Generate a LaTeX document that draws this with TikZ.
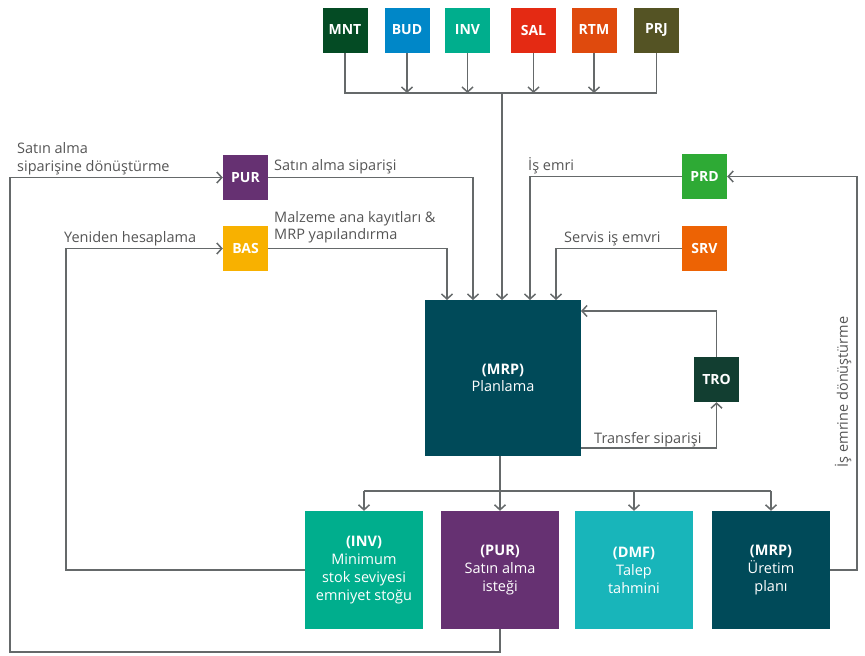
\documentclass[tikz,border=0pt]{standalone}
\usepackage{fontspec}
\setmainfont{Open Sans}
\usetikzlibrary{arrows.meta}
\definecolor{mntc}{HTML}{044B24}
\definecolor{budc}{HTML}{0087C8}
\definecolor{invc}{HTML}{00AE8D}
\definecolor{salc}{HTML}{E42A13}
\definecolor{rtmc}{HTML}{DF4A0D}
\definecolor{prjc}{HTML}{545324}
\definecolor{purc}{HTML}{663172}
\definecolor{basc}{HTML}{F8B100}
\definecolor{prdc}{HTML}{2EAA35}
\definecolor{srvc}{HTML}{ED6304}
\definecolor{troc}{HTML}{123E31}
\definecolor{mrpc}{HTML}{004A59}
\definecolor{dmfc}{HTML}{18B5BA}
\definecolor{linegray}{HTML}{65696A}
\definecolor{txtgray}{HTML}{555555}
\begin{document}
\begin{tikzpicture}[x=1pt,y=-1pt,
  sbox/.style={minimum width=45pt,minimum height=45pt,inner sep=0pt,text=white,font=\bfseries\fontsize{14}{17}\selectfont},
  bbox/.style={minimum width=118pt,minimum height=118pt,inner sep=0pt,text=white,align=center,font=\fontsize{14.5}{18}\selectfont},
  conn/.style={draw=linegray,line width=1.5pt},
  arr/.style={conn,-{Straight Barb[length=5pt,width=11pt]}},
  lbl/.style={text=txtgray,font=\fontsize{14.5}{18}\selectfont,inner sep=0pt,anchor=base west}]
\path[use as bounding box] (0,0) rectangle (865,656);
% top boxes
\node[sbox,fill=mntc] (mnt) at (345,30) {MNT};
\node[sbox,fill=budc] (bud) at (407,30) {BUD};
\node[sbox,fill=invc] (inv) at (467.5,30) {INV};
\node[sbox,fill=salc] (sal) at (533.5,30) {SAL};
\node[sbox,fill=rtmc] (rtm) at (594,30) {RTM};
\node[sbox,fill=prjc] (prj) at (656.5,30) {PRJ};
% side boxes
\node[sbox,fill=purc] (pur) at (245.5,177.5) {PUR};
\node[sbox,fill=basc] (bas) at (245.5,248.5) {BAS};
\node[sbox,fill=prdc] (prd) at (704.5,176.5) {PRD};
\node[sbox,fill=srvc] (srv) at (704.5,248.5) {SRV};
\node[sbox,fill=troc] (tro) at (716.5,379.5) {TRO};
% main box
\node[minimum width=156pt,minimum height=156pt,inner sep=0pt,fill=mrpc,text=white,align=center,font=\fontsize{14.5}{17}\selectfont] (mrp) at (503,378) {\textbf{(MRP)}\\Planlama};
% bottom boxes
\node[bbox,fill=invc] (inv2) at (364,570) {\textbf{(INV)}\\Minimum\\stok seviyesi\\emniyet stoğu};
\node[bbox,fill=purc] (pur2) at (500,570) {\textbf{(PUR)}\\Satın alma\\isteği};
\node[bbox,fill=dmfc] (dmf) at (634,570) {\textbf{(DMF)}\\Talep\\tahmini};
\node[bbox,fill=mrpc] (mrp2) at (771,570) {\textbf{(MRP)}\\Üretim\\planı};
% coordinates
\coordinate (tb) at (0,93);
\coordinate (bb) at (0,491);
\coordinate (m1) at (447,300);
\coordinate (m2) at (473,300);
\coordinate (m3) at (502,300);
\coordinate (m4) at (530,300);
\coordinate (m5) at (556,300);
\coordinate (lo) at (10,652);
\coordinate (li) at (66,570);
\coordinate (ro) at (857,570);
\coordinate (t1) at (581,448);
\coordinate (t2) at (581,311);
% top bus
\draw[conn] (mnt.south) |- (prj.south |- tb) -- (prj.south);
\draw[arr] (bud.south) -- (bud.south |- tb);
\draw[arr] (inv.south) -- (inv.south |- tb);
\draw[arr] (sal.south) -- (sal.south |- tb);
\draw[arr] (rtm.south) -- (rtm.south |- tb);
\draw[arr] (m3 |- tb) -- (m3);
% side inputs
\draw[arr] (pur.east) -| (m2);
\draw[arr] (bas.east) -| (m1);
\draw[arr] (prd.west) -| (m4);
\draw[arr] (srv.west) -| (m5);
% TRO loop
\draw[arr] (t1) -| (tro.south);
\draw[arr] (tro.north) |- (t2);
% bottom bus
\draw[conn] (inv2.north |- bb) -- (mrp2.north |- bb);
\draw[arr] (mrp.south -| pur2.north) -- (pur2.north);
\draw[arr] (inv2.north |- bb) -- (inv2.north);
\draw[arr] (dmf.north |- bb) -- (dmf.north);
\draw[arr] (mrp2.north |- bb) -- (mrp2.north);
% feedback loops
\draw[arr] (pur2.south) |- (lo) |- (pur.west);
\draw[arr] (inv2.west) -- (li) |- (bas.west);
\draw[arr] (mrp2.east) -- (ro) |- (prd.east);
% labels
\node[lbl] (l1a) at (17,153) {Satın alma};
\node[lbl] (l1b) at (17,171) {siparişine dönüştürme};
\node[lbl] (l2) at (274,170) {Satın alma siparişi};
\node[lbl] (l3a) at (274,222) {Malzeme ana kayıtları \&};
\node[lbl] (l3b) at (274,239) {MRP yapılandırma};
\node[lbl] (l4) at (64,242) {Yeniden hesaplama};
\node[lbl] (l5) at (528,170) {İş emri};
\node[lbl] (l6) at (564,242) {Servis iş emvri};
\node[lbl] (l7) at (594,443) {Transfer siparişi};
\node[text=txtgray,font=\fontsize{14.5}{18}\selectfont,inner sep=0pt,rotate=90] (l8) at (843,392) {İş emrine dönüştürme};
\end{tikzpicture}
\end{document}
